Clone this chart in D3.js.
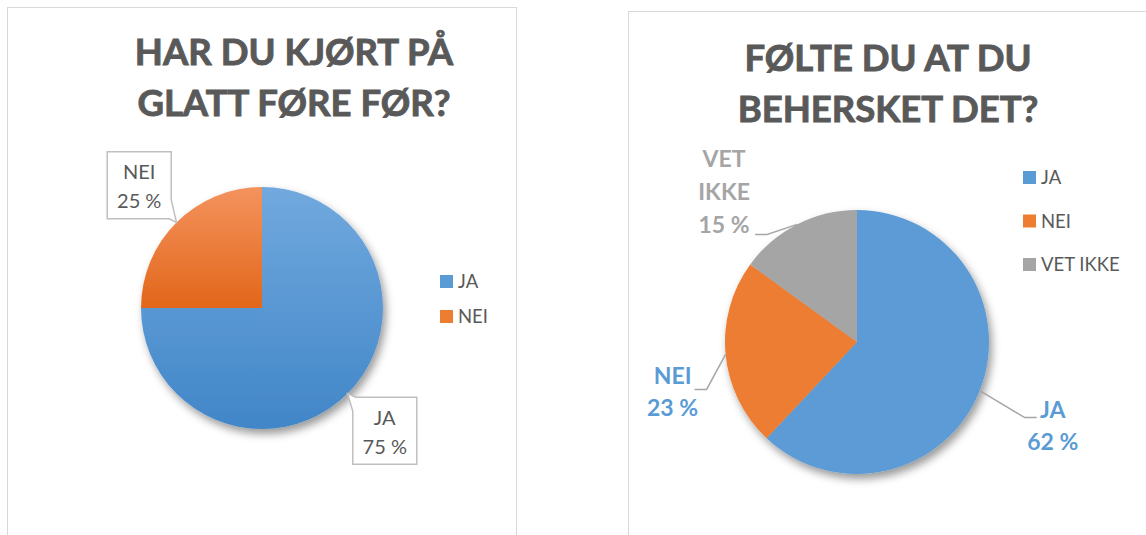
<!DOCTYPE html>
<html>
<head>
<meta charset="utf-8">
<script src="https://cdn.jsdelivr.net/npm/d3@7/dist/d3.min.js"></script>
<style>
  body { margin: 0; background: #fff; }
  svg { display: block; font-family: Lato, "Open Sans", sans-serif; }
</style>
</head>
<body>
<svg id="chart" width="1146" height="535"></svg>
<script>
// chart 1
const title1 = ['HAR DU KJØRT PÅ', 'GLATT FØRE FØR?'];
const cats1 = ['JA', 'NEI'];
const vals1 = [75, 25];

// chart 2
const title2 = ['FØLTE DU AT DU', 'BEHERSKET DET?'];
const cats2 = ['JA', 'NEI', 'VET IKKE'];
const vals2 = [62, 23, 15];

const colors = ['#5b9bd5', '#ed7d31', '#a5a5a5'];
const titleColor = '#595959';

const svg = d3.select('#chart');
const defs = svg.append('defs');

defs.append('filter')
    .attr('id', 'shadow')
    .attr('x', '-20%').attr('y', '-20%')
    .attr('width', '140%').attr('height', '140%')
  .append('feDropShadow')
    .attr('dx', 3).attr('dy', 5)
    .attr('stdDeviation', 4)
    .attr('flood-color', '#000')
    .attr('flood-opacity', 0.4);

function addGradient(id, top, bottom) {
    const g = defs.append('linearGradient')
        .attr('id', id)
        .attr('x1', 0).attr('x2', 0)
        .attr('y1', 0).attr('y2', 1);
    g.append('stop').attr('offset', '0%').attr('stop-color', top);
    g.append('stop').attr('offset', '100%').attr('stop-color', bottom);
}

function drawTitle(lines, cx, y0) {
    svg.append('g').selectAll('text')
        .data(lines)
        .enter()
        .append('text')
            .attr('x', cx)
            .attr('y', (d, i) => y0 + i * 51)
            .attr('text-anchor', 'middle')
            .attr('font-size', '36.5px')
            .attr('font-weight', 700)
            .attr('fill', titleColor)
            .attr('stroke', titleColor)
            .attr('stroke-width', 0.9)
            .text(d => d);
}

function drawLegend(cats, x, y0, step) {
    const lg = svg.append('g');
    lg.selectAll('rect')
        .data(cats)
        .enter()
        .append('rect')
            .attr('x', x)
            .attr('y', (d, i) => y0 + i * step)
            .attr('width', 13)
            .attr('height', 13)
            .attr('fill', (d, i) => colors[i]);
    lg.selectAll('text')
        .data(cats)
        .enter()
        .append('text')
            .attr('x', x + 18)
            .attr('y', (d, i) => y0 + i * step + 13)
            .attr('font-size', '18.5px')
            .attr('fill', titleColor)
            .text(d => d);
}

// panels
svg.append('rect')
    .attr('x', 7.5).attr('y', 7.5)
    .attr('width', 509).attr('height', 540)
    .attr('fill', 'none').attr('stroke', '#d9d9d9');
svg.append('rect')
    .attr('x', 628.5).attr('y', 11.5)
    .attr('width', 540).attr('height', 540)
    .attr('fill', 'none').attr('stroke', '#d9d9d9');

const pie = d3.pie().sort(null).value(d => d);

// ---------- chart 1 ----------
const c1 = { x: 262, y: 308, r: 121 };
addGradient('grad0', '#71a9de', '#4186c8');
addGradient('grad1', '#f4935e', '#e2661a');

const arcs1 = pie(vals1);
const arc1 = d3.arc().innerRadius(0).outerRadius(c1.r);
const edge1 = d3.arc().innerRadius(c1.r).outerRadius(c1.r);
const lab1 = d3.arc().innerRadius(c1.r * 1.435).outerRadius(c1.r * 1.435);

const g1 = svg.append('g').attr('transform', `translate(${ c1.x },${ c1.y })`);
g1.append('g')
    .attr('filter', 'url(#shadow)')
    .selectAll('path')
    .data(arcs1)
    .enter()
    .append('path')
        .attr('d', arc1)
        .attr('fill', (d, i) => `url(#grad${ i })`);

// callout boxes
const boxW = 64, boxH = 67;
arcs1.forEach((d, i) => {
    const [bx, by] = lab1.centroid(d);
    const [tx, ty] = edge1.centroid(d);
    const x0 = bx - boxW / 2, x1 = bx + boxW / 2;
    const y0 = by - boxH / 2, y1 = by + boxH / 2;
    let pts;
    if (tx > bx) {
        pts = [[x0, y0], [x1, y0], [x1, y1 - 19], [tx, ty], [x1 - 2, y1], [x0, y1]];
    } else {
        pts = [[x0 + 3, y0], [x1, y0], [x1, y1], [x0, y1], [x0, y0 + 14], [tx, ty]];
    }
    g1.append('path')
        .attr('d', d3.line()(pts) + 'Z')
        .attr('fill', '#fff')
        .attr('stroke', '#bfbfbf')
        .attr('stroke-width', 1.5);
    g1.append('text')
        .attr('x', bx).attr('y', by - 6)
        .attr('text-anchor', 'middle')
        .attr('font-size', '20px')
        .attr('fill', titleColor)
        .text(cats1[i]);
    g1.append('text')
        .attr('x', bx).attr('y', by + 23)
        .attr('text-anchor', 'middle')
        .attr('font-size', '20px')
        .attr('fill', titleColor)
        .text(`${ vals1[i] } %`);
});

drawTitle(title1, 294, 65);
drawLegend(cats1, 440, 275, 35);

// ---------- chart 2 ----------
const c2 = { x: 857, y: 342, r: 132 };
const arcs2 = pie(vals2);
const arc2 = d3.arc().innerRadius(0).outerRadius(c2.r);
const edge2 = d3.arc().innerRadius(c2.r).outerRadius(c2.r);

const g2 = svg.append('g').attr('transform', `translate(${ c2.x },${ c2.y })`);
g2.append('g')
    .attr('filter', 'url(#shadow)')
    .selectAll('path')
    .data(arcs2)
    .enter()
    .append('path')
        .attr('d', arc2)
        .attr('fill', (d, i) => colors[i]);

// label layout: elbow offset from the slice edge, text centre offset, first baseline offset
const layout2 = [
    { ex: 45, ey: 27, side: 1, cx: 16, dy: 0, step: 32 },
    { ex: -19, ey: 35, side: -1, cx: -22, dy: -5, step: 32 },
    { ex: -30, ey: 10, side: -1, cx: -31, dy: -67, step: 33 }
];
const labelColors2 = ['#5b9bd5', '#5b9bd5', '#a5a5a5'];

arcs2.forEach((d, i) => {
    const L = layout2[i];
    const [sx, sy] = edge2.centroid(d);
    const ex = sx + L.ex, ey = sy + L.ey;
    const hx = ex + L.side * 12;
    g2.append('path')
        .attr('d', d3.line()([[sx, sy], [ex, ey], [hx, ey]]))
        .attr('fill', 'none')
        .attr('stroke', '#a6a6a6')
        .attr('stroke-width', 1.5);
    const lines = cats2[i].split(' ').concat([`${ vals2[i] } %`]);
    g2.append('g').selectAll('text')
        .data(lines)
        .enter()
        .append('text')
            .attr('x', hx + L.cx)
            .attr('y', (t, j) => ey + L.dy + j * L.step)
            .attr('text-anchor', 'middle')
            .attr('font-size', '23px')
            .attr('font-weight', 700)
            .attr('fill', labelColors2[i])
            .text(t => t);
});

drawTitle(title2, 888, 71);
drawLegend(cats2, 1023, 171, 43.5);
</script>
</body>
</html>
